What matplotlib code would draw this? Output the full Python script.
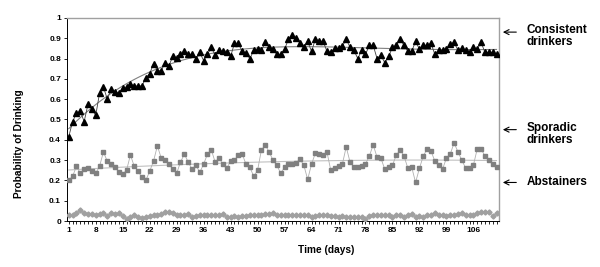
import numpy as np
import matplotlib
matplotlib.use("Agg")
import matplotlib.pyplot as plt

plt.rcParams['font.family'] = ['Liberation Sans', 'DejaVu Sans']

# daily probabilities
days = np.arange(1, 113)

consistent = [
    0.415, 0.49, 0.53, 0.54, 0.49, 0.575, 0.55, 0.52, 0.63, 0.66,
    0.60, 0.65, 0.635, 0.63, 0.655, 0.66, 0.675, 0.665, 0.665, 0.665,
    0.705, 0.725, 0.775, 0.74, 0.74, 0.78, 0.765, 0.81, 0.805, 0.82,
    0.835, 0.82, 0.82, 0.80, 0.83, 0.79, 0.82, 0.855, 0.815, 0.84,
    0.835, 0.83, 0.81, 0.875, 0.875, 0.835, 0.825, 0.80, 0.84, 0.845,
    0.84, 0.88, 0.855, 0.845, 0.82, 0.82, 0.845, 0.895, 0.915, 0.90,
    0.875, 0.855, 0.885, 0.835, 0.895, 0.885, 0.885, 0.835, 0.83, 0.85,
    0.85, 0.86, 0.895, 0.855, 0.84, 0.80, 0.84, 0.82, 0.865, 0.865,
    0.80, 0.815, 0.78, 0.81, 0.855, 0.865, 0.895, 0.865, 0.835, 0.835,
    0.885, 0.845, 0.865, 0.865, 0.875, 0.82, 0.84, 0.84, 0.845, 0.87,
    0.88, 0.84, 0.85, 0.84, 0.83, 0.855, 0.845, 0.88, 0.83, 0.83,
    0.83, 0.82,
]

sporadic = [
    0.20, 0.22, 0.27, 0.235, 0.255, 0.26, 0.245, 0.235, 0.27, 0.34,
    0.295, 0.28, 0.265, 0.24, 0.23, 0.25, 0.325, 0.27, 0.245, 0.215,
    0.20, 0.245, 0.295, 0.37, 0.31, 0.30, 0.28, 0.255, 0.235, 0.29,
    0.33, 0.29, 0.255, 0.275, 0.24, 0.28, 0.33, 0.35, 0.29, 0.31,
    0.28, 0.26, 0.295, 0.30, 0.325, 0.33, 0.28, 0.265, 0.22, 0.25,
    0.35, 0.375, 0.34, 0.30, 0.275, 0.235, 0.265, 0.28, 0.28, 0.285,
    0.305, 0.275, 0.205, 0.28, 0.335, 0.33, 0.325, 0.34, 0.25, 0.26,
    0.27, 0.28, 0.365, 0.29, 0.265, 0.265, 0.27, 0.28, 0.32, 0.375,
    0.315, 0.31, 0.255, 0.265, 0.275, 0.325, 0.35, 0.32, 0.26, 0.265,
    0.19, 0.26, 0.32, 0.355, 0.345, 0.295, 0.275, 0.255, 0.31, 0.33,
    0.385, 0.34, 0.30, 0.26, 0.26, 0.275, 0.355, 0.355, 0.32, 0.30,
    0.28, 0.265,
]

abstainers = [
    0.031, 0.028, 0.038, 0.054, 0.038, 0.035, 0.035, 0.030, 0.035, 0.041,
    0.025, 0.041, 0.035, 0.038, 0.025, 0.011, 0.021, 0.028, 0.021, 0.015,
    0.021, 0.025, 0.028, 0.031, 0.035, 0.044, 0.044, 0.038, 0.031, 0.028,
    0.031, 0.035, 0.018, 0.025, 0.028, 0.031, 0.031, 0.031, 0.031, 0.028,
    0.035, 0.021, 0.021, 0.025, 0.021, 0.025, 0.025, 0.028, 0.028, 0.028,
    0.031, 0.035, 0.035, 0.038, 0.031, 0.028, 0.028, 0.028, 0.028, 0.028,
    0.028, 0.031, 0.028, 0.021, 0.025, 0.028, 0.031, 0.028, 0.025, 0.025,
    0.018, 0.025, 0.021, 0.018, 0.021, 0.018, 0.021, 0.011, 0.025, 0.031,
    0.028, 0.028, 0.028, 0.031, 0.021, 0.028, 0.031, 0.021, 0.028, 0.035,
    0.021, 0.025, 0.021, 0.028, 0.031, 0.038, 0.031, 0.028, 0.025, 0.028,
    0.031, 0.035, 0.038, 0.031, 0.028, 0.031, 0.038, 0.044, 0.044, 0.044,
    0.025, 0.041,
]

tick_days = list(range(1, 113, 7))

fig = plt.figure(figsize=(6, 2.67), dpi=100)
ax = fig.add_axes([0.112, 0.172, 0.72, 0.761])

# data series
ax.plot(days, consistent, color='#404040', lw=0.6, marker='^', ms=4.5,
        mfc='black', mec='black', zorder=3)
ax.plot(days, sporadic, color='#b0b0b0', lw=0.6, marker='s', ms=3.5,
        mfc='#808080', mec='#808080', zorder=3)
ax.plot(days, abstainers, color='#b8b8b8', lw=0.6, marker='D', ms=2.6,
        mfc='#a0a0a0', mec='#a0a0a0', zorder=3)

# trend lines (polynomial, like the spreadsheet trendlines)
fit_c = np.polyval(np.polyfit(days, consistent, 4), days)
fit_s = np.polyval(np.polyfit(days, sporadic, 2), days)
ax.plot(days, fit_c, color='#808080', lw=0.8, zorder=2)
ax.plot(days, fit_s, color='#c0c0c0', lw=0.8, zorder=2)

ax.set_xlim(0.6, 112.7)
ax.set_ylim(0, 1)
ax.set_yticks(np.arange(0, 1.01, 0.1))
ax.set_yticklabels(['0', '0.1', '0.2', '0.3', '0.4', '0.5', '0.6', '0.7',
                    '0.8', '0.9', '1'])
ax.set_xticks(tick_days)
ax.set_xticks(days, minor=True)
ax.tick_params(axis='both', which='both', direction='out', length=2.5,
               width=0.6, labelsize=6, pad=2)
for lab in ax.get_xticklabels() + ax.get_yticklabels():
    lab.set_fontweight('bold')

for s in ['top', 'right']:
    ax.spines[s].set_color('#a0a0a0')
    ax.spines[s].set_linewidth(1.0)
for s in ['left', 'bottom']:
    ax.spines[s].set_color('black')
    ax.spines[s].set_linewidth(0.7)

ax.set_xlabel('Time (days)', fontsize=7.3, fontweight='bold')
ax.xaxis.set_label_coords(0.6, -0.12)
ax.set_ylabel('Probability of Drinking', fontsize=7.3, fontweight='bold')
ax.yaxis.set_label_coords(-0.1, 0.38)

# group labels with arrows on the right
labels = ['Consistent\ndrinkers', 'Sporadic\ndrinkers', 'Abstainers']
label_y = [0.93, 0.45, 0.19]
for txt, yv in zip(labels, label_y):
    ax.annotate('', xy=(1.002, yv), xytext=(1.046, yv),
                xycoords='axes fraction',
                arrowprops=dict(arrowstyle='->', color='black', lw=0.8,
                                mutation_scale=9))
    if '\n' in txt:
        ax.text(1.063, yv + 0.04, txt, transform=ax.transAxes, fontsize=8.5,
                fontweight='bold', va='top', ha='left', linespacing=1.05)
    else:
        ax.text(1.063, yv, txt, transform=ax.transAxes, fontsize=8.5,
                fontweight='bold', va='center', ha='left')

fig.savefig('out.png', dpi=100)
